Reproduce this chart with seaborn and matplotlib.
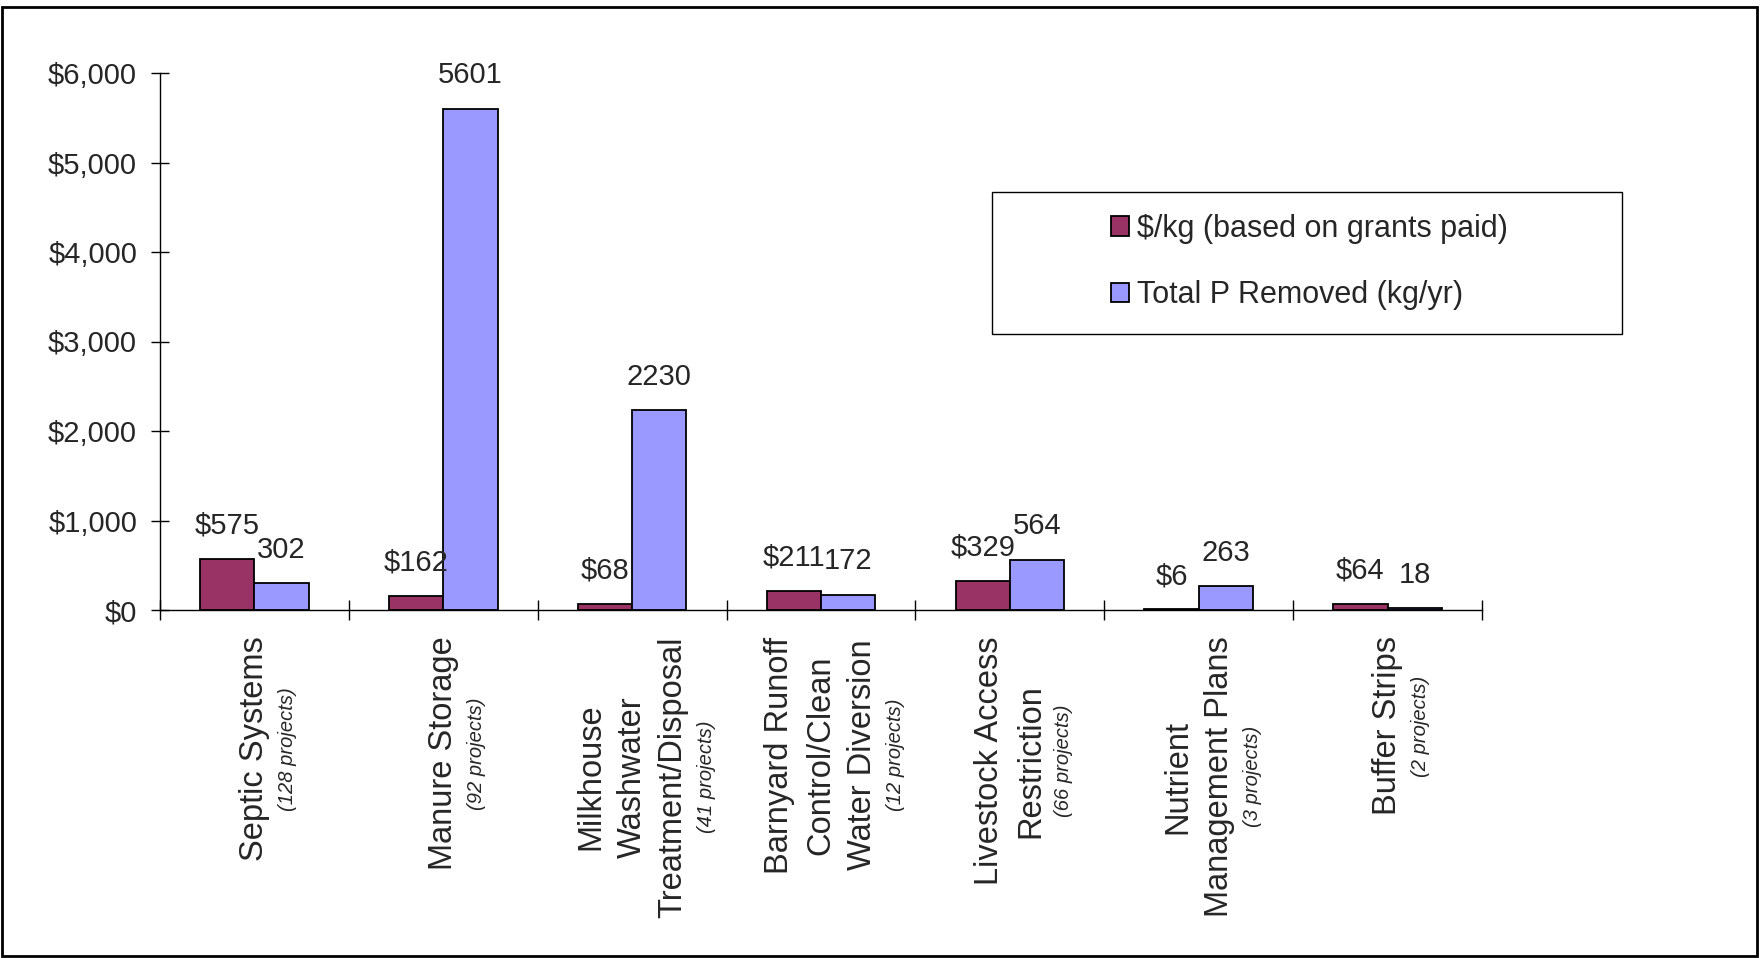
import seaborn as sns
import matplotlib.pyplot as plt
import matplotlib.patches as mpatches
from matplotlib.ticker import StrMethodFormatter
import numpy as np
import pandas as pd

# data
categories = ['Septic Systems', 'Manure Storage', 'Milkhouse\nWashwater\nTreatment/Disposal',
              'Barnyard Runoff\nControl/Clean\nWater Diversion', 'Livestock Access\nRestriction',
              'Nutrient\nManagement Plans', 'Buffer Strips']
projects = ['(128 projects)', '(92 projects)', '(41 projects)', '(12 projects)',
            '(66 projects)', '(3 projects)', '(2 projects)']
cost_per_kg = [575, 162, 68, 211, 329, 6, 64]
total_p = [302, 5601, 2230, 172, 564, 263, 18]
series_names = ['$/kg (based on grants paid)', 'Total P Removed (kg/yr)']
series_colors = ['#993366', '#9999FF']
y_ticks = [0, 1000, 2000, 3000, 4000, 5000, 6000]

# long form table for seaborn
df = pd.DataFrame({
    'category': categories * 2,
    'series': [series_names[0]] * len(categories) + [series_names[1]] * len(categories),
    'value': cost_per_kg + total_p,
})

sns.set_style('white')
plt.rcParams['font.family'] = ['Liberation Sans', 'DejaVu Sans']

fig = plt.figure(figsize=(17.6, 9.58), dpi=100)
ax = fig.add_axes([160 / 1760, 1 - 610 / 958, (1482 - 160) / 1760, (610 - 73) / 958])

sns.barplot(data=df, x='category', y='value', hue='series', order=categories,
            hue_order=series_names, palette=series_colors, saturation=1, width=0.575,
            edgecolor='black', linewidth=1.3, errorbar=None, legend=False, ax=ax)

# value labels above bars
ax.bar_label(ax.containers[0], labels=[f'${v}' for v in cost_per_kg], padding=14, fontsize=21)
ax.bar_label(ax.containers[1], labels=[str(v) for v in total_p], padding=14, fontsize=21)

ax.set_ylim(0, 6000)
ax.set_xlim(-0.5, len(categories) - 0.5)
ax.set_yticks(y_ticks)
ax.yaxis.set_major_formatter(StrMethodFormatter('${x:,.0f}'))
ax.set_xticks(np.arange(-0.5, len(categories), 1))
ax.set_xticklabels([])
ax.set_xlabel('')
ax.set_ylabel('')
ax.tick_params(axis='y', direction='inout', length=13, width=1, color='black',
               labelsize=21, pad=10, left=True)
ax.tick_params(axis='x', direction='inout', length=14, width=1, color='black', bottom=True)
for side in ['top', 'right']:
    ax.spines[side].set_visible(False)
for side in ['left', 'bottom']:
    ax.spines[side].set_color('black')
    ax.spines[side].set_linewidth(1)

# rotated category labels with the project counts in italics next to them
for i, (cat, proj) in enumerate(zip(categories, projects)):
    main = ax.annotate(cat, xy=(i, 0), xycoords=('data', 'axes fraction'),
                       xytext=(0, -19), textcoords='offset points', rotation=90,
                       ha='center', va='top', ma='center', fontsize=23.5, linespacing=1.42)
    ax.annotate(proj, xy=(1.0, 0.5), xycoords=main, xytext=(6, 0),
                textcoords='offset points', rotation=90, ha='left', va='center',
                fontsize=14.5, style='italic')

# legend box
fig.patches.append(mpatches.Rectangle((992 / 1760, 1 - 334 / 958), 630 / 1760, 142 / 958,
                                      transform=fig.transFigure, facecolor='white',
                                      edgecolor='black', linewidth=1))
handles = [mpatches.Patch(facecolor=c, edgecolor='black', linewidth=1.3) for c in series_colors]
fig.legend(handles, series_names, loc='center left', bbox_to_anchor=(1111 / 1760, 1 - 262 / 958),
           frameon=False, fontsize=22, handlelength=0.6, handleheight=0.6,
           handletextpad=0.25, labelspacing=1.2, borderpad=0, borderaxespad=0)

# outer frame
fig.patches.append(mpatches.Rectangle((2 / 1760, 2 / 958), 1755 / 1760, 949 / 958,
                                      transform=fig.transFigure, fill=False,
                                      edgecolor='black', linewidth=2))

fig.savefig('out.png', dpi=100)
